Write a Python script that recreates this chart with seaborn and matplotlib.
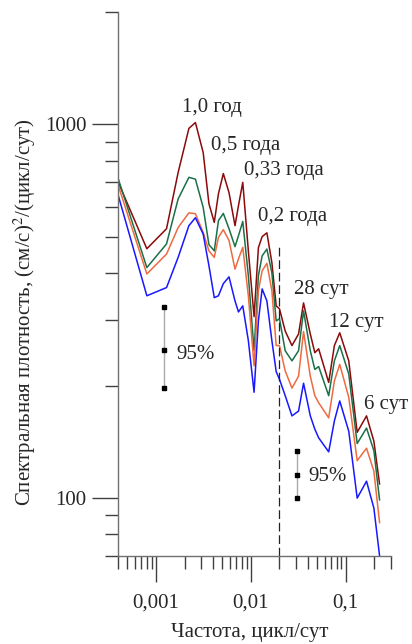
import matplotlib
matplotlib.use('Agg')
import matplotlib.pyplot as plt
import pandas as pd
import seaborn as sns
from matplotlib.ticker import FixedLocator, FixedFormatter, LogLocator, NullFormatter

# frequency grid, cycles per day
freq = [0.0004, 0.0008, 0.00129, 0.00171, 0.00222, 0.0026, 0.00314, 0.00361,
        0.00411, 0.00455, 0.00512, 0.00588, 0.0068, 0.0074, 0.00821, 0.0094,
        0.0108, 0.0120, 0.01314, 0.01474, 0.01664, 0.01848, 0.02002, 0.023,
        0.0271, 0.0318, 0.0359, 0.0423, 0.0472, 0.0518, 0.0661, 0.0759,
        0.0864, 0.1076, 0.132, 0.1656, 0.198, 0.2274]

# spectral density, four curves (top to bottom)
s_red = [700, 465, 526, 744, 976, 1012, 841, 614, 547, 653, 739, 657, 536, 607,
         700, 459, 306, 468, 501, 513, 427, 327, 321, 280, 256, 275, 333, 275,
         245, 251, 204, 256, 277, 233, 150, 166, 142, 109]
s_green = [715, 414, 479, 632, 722, 714, 600, 477, 459, 553, 578, 526, 471, 504,
           550, 394, 248, 394, 445, 464, 401, 298, 302, 248, 233, 248, 317, 248,
           221, 225, 188, 233, 256, 215, 140, 154, 134, 98.8]
s_orange = [686, 398, 450, 530, 580, 577, 514, 459, 441, 499, 523, 489, 410, 437,
            469, 348, 226, 359, 406, 425, 359, 256, 256, 219, 197, 212, 279, 212,
            188, 180, 164, 206, 228, 186, 126, 136, 118, 85.9]
s_blue = [645, 348, 366, 441, 536, 563, 509, 419, 344, 348, 375, 391, 337, 315,
          327, 264, 192, 298, 363, 337, 264, 218, 208, 188, 166, 171, 203, 166,
          153, 145, 133, 161, 182, 151, 100, 111, 94, 70]

colors = {'red': '#8b0a0a', 'green': '#1a7048', 'orange': '#ee6a40', 'blue': '#1818ff'}

# period labels
peak_labels = ['1,0 год', '0,5 года', '0,33 года', '0,2 года', '28 сут', '12 сут', '6 сут']
peak_x = [0.0019, 0.00379, 0.00847, 0.01183, 0.0286, 0.0661, 0.155]
peak_y = [1083, 852, 733, 553, 352, 287, 173]

# 95% confidence bars
ci_x = [0.0012, 0.0307]
ci_low = [197, 100]
ci_mid = [249, 115]
ci_high = [325, 134]
ci_text_x = [0.00162, 0.0403]
ci_text_y = [236, 111]

cutoff_freq = 0.02

df = pd.DataFrame({
    'freq': freq * 4,
    'psd': s_red + s_green + s_orange + s_blue,
    'curve': ['red'] * len(freq) + ['green'] * len(freq) + ['orange'] * len(freq) + ['blue'] * len(freq),
})

sns.set_style('ticks')
plt.rcParams['font.family'] = ['Liberation Serif', 'DejaVu Serif']
plt.rcParams['mathtext.fontset'] = 'stix'
FS = 15

fig = plt.figure(figsize=(4.12, 6.44), dpi=100)
ax = fig.add_axes([118.3 / 412, 1 - 556 / 644, (391 - 118.3) / 412, (556 - 12) / 644])

sns.lineplot(data=df, x='freq', y='psd', hue='curve', palette=colors, estimator=None,
             sort=False, linewidth=1.1, legend=False, ax=ax)
ax.set_xlabel('')
ax.set_ylabel('')

ax.set_xscale('log')
ax.set_yscale('log')
ax.set_xlim(0.0004, 0.3)
ax.set_ylim(70, 2000)

ax.vlines(cutoff_freq, 70, 480, colors='#222222', linestyles=(0, (7, 3)), linewidth=0.9)

for x, lo, mid, hi in zip(ci_x, ci_low, ci_mid, ci_high):
    ax.plot([x, x], [lo, hi], color='#aaaaaa', linewidth=1.0)
    ax.plot([x, x, x], [lo, mid, hi], linestyle='none', marker='s', markersize=2.6,
            color='black')
for x, y in zip(ci_text_x, ci_text_y):
    ax.text(x, y, '95%', fontsize=FS, ha='left', va='baseline')

for lab, x, y in zip(peak_labels, peak_x, peak_y):
    ax.text(x, y, lab, fontsize=FS, ha='left', va='baseline')

ax.xaxis.set_major_locator(FixedLocator([0.001, 0.01, 0.1]))
ax.xaxis.set_major_formatter(FixedFormatter(['0,001', '0,01', '0,1']))
ax.xaxis.set_minor_locator(LogLocator(base=10, subs=range(2, 10), numticks=20))
ax.xaxis.set_minor_formatter(NullFormatter())
ax.yaxis.set_major_locator(FixedLocator([100, 1000]))
ax.yaxis.set_major_formatter(FixedFormatter(['100', '1000']))
ax.yaxis.set_minor_locator(LogLocator(base=10, subs=range(2, 10), numticks=20))
ax.yaxis.set_minor_formatter(NullFormatter())

ax.tick_params(which='major', length=19, width=1, color='#404040', labelsize=FS)
ax.tick_params(which='minor', length=9.5, width=1, color='#404040')
ax.tick_params(axis='x', which='major', pad=8)
ax.tick_params(axis='y', which='major', pad=4)

for side in ['top', 'right']:
    ax.spines[side].set_visible(False)
for side in ['left', 'bottom']:
    ax.spines[side].set_color('#707070')
    ax.spines[side].set_linewidth(1.0)

fig.text(25 / 412, 1 - 312 / 644, 'Спектральная плотность, (см/с)$^2$/(цикл/сут)',
         rotation=90, ha='center', va='center', fontsize=FS)
fig.text(250 / 412, 1 - 632 / 644, 'Частота, цикл/сут', ha='center', va='center', fontsize=FS)

fig.savefig('out.png', dpi=100)
